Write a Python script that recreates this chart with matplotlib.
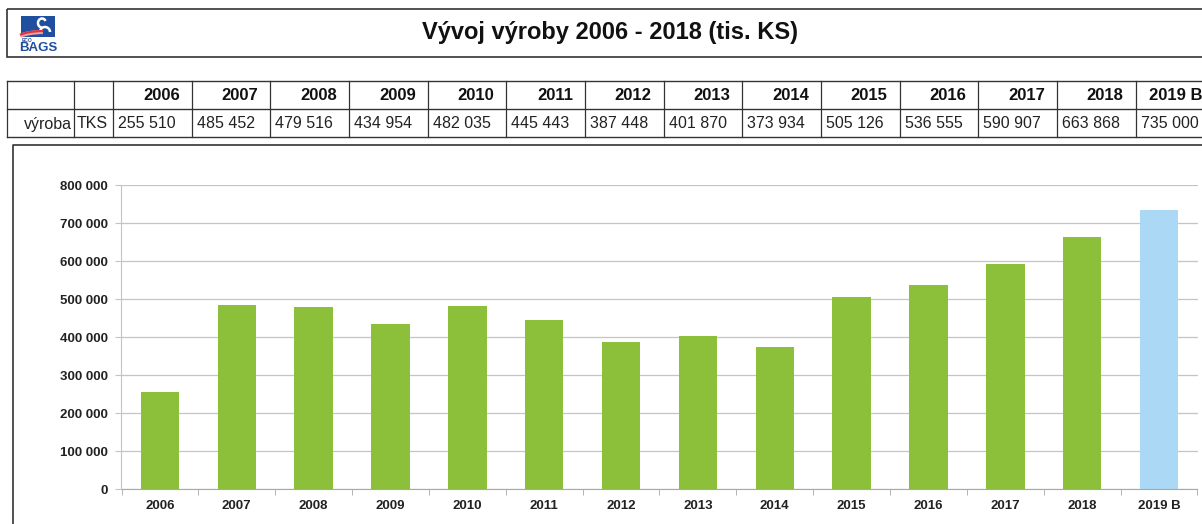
import matplotlib.pyplot as plt
from matplotlib.patches import Rectangle, Arc
from matplotlib.ticker import FuncFormatter, FixedLocator

plt.rcParams['font.family'] = ['Liberation Sans', 'DejaVu Sans']

# data
years = ['2006', '2007', '2008', '2009', '2010', '2011', '2012', '2013',
         '2014', '2015', '2016', '2017', '2018', '2019 B']
production = [255510, 485452, 479516, 434954, 482035, 445443, 387448, 401870,
              373934, 505126, 536555, 590907, 663868, 735000]
row_label = 'výroba'
unit_label = 'TKS'
title = 'Vývoj výroby 2006 - 2018 (tis. KS)'
y_ticks = [0, 100000, 200000, 300000, 400000, 500000, 600000, 700000, 800000]

green = '#8cbf3a'
blue = '#abd8f4'
bar_colors = [green] * 13 + [blue]


def space_thousands(v):
    return f'{int(v):,}'.replace(',', ' ')


W, H = 1202, 524
fig = plt.figure(figsize=(W / 100, H / 100), dpi=100)

# overlay in pixel coordinates for header box, table and frame
over = fig.add_axes([0, 0, 1, 1])
over.set_xlim(0, W)
over.set_ylim(H, 0)
over.axis('off')

line_c = '#333333'
logo_c = '#1f4f9e'

#-------------------------------
# header box with logo and title
#-------------------------------
over.add_patch(Rectangle((7, 9), 1300, 48, fill=False, edgecolor=line_c, lw=1.2))
over.add_patch(Rectangle((21, 16), 34, 21, facecolor=logo_c, edgecolor='none'))
# swan neck
over.add_patch(Arc((42, 23), 8, 9, theta1=90, theta2=330, color='white', lw=1.8))
over.add_patch(Arc((45, 32), 10, 10, theta1=200, theta2=360, color='white', lw=1.8))
# red swoosh
over.add_patch(Arc((44, 40), 56, 16, theta1=190, theta2=262, color='#f2a0a4', lw=3))
over.add_patch(Arc((44, 39), 56, 16, theta1=190, theta2=262, color='#d9363e', lw=1.6))
over.text(22, 40.5, 'ECO', fontsize=3.5, color=logo_c, fontweight='bold', va='center')
over.text(38.5, 48, 'BAGS', fontsize=9.5, color=logo_c, fontweight='bold',
          ha='center', va='center')
over.text(610, 33, title, fontsize=17, fontweight='bold', ha='center', va='center',
          color='#111111')

#-------------------------------
# table
#-------------------------------
t_top, t_mid, t_bot = 81, 109, 137
col_w = 78.67
col_x0 = 113
for y in (t_top, t_mid, t_bot):
    over.plot([7, W + 10], [y, y], color=line_c, lw=1.0)
vlines = [7, 74] + [col_x0 + k * col_w for k in range(len(years))]
for x in vlines:
    over.plot([x, x], [t_top, t_bot], color=line_c, lw=0.9)

for k, (yr, val) in enumerate(zip(years, production)):
    left = col_x0 + k * col_w
    over.text(left + col_w - 12, (t_top + t_mid) / 2 + 1, yr, fontsize=12,
              fontweight='bold', ha='right', va='center', color='#111111')
    over.text(left + 5, (t_mid + t_bot) / 2 + 1, space_thousands(val), fontsize=11.5,
              ha='left', va='center', color='#222222')
over.text(72, (t_mid + t_bot) / 2 + 1, row_label, fontsize=11.5, ha='right',
          va='center', color='#222222')
over.text(77, (t_mid + t_bot) / 2 + 1, unit_label, fontsize=11.5, ha='left',
          va='center', color='#222222')

# chart frame (left and top edges visible)
over.plot([13, 13, W + 10], [H + 10, 145, 145], color=line_c, lw=1.2)

#-------------------------------
# bar chart
#-------------------------------
ax = fig.add_axes([121.5 / W, 35 / H, (1197.5 - 121.5) / W, 304 / H])
x = range(len(years))
ax.bar(x, production, width=0.5, color=bar_colors, zorder=2)
ax.set_xlim(-0.5, len(years) - 0.5)
ax.set_ylim(0, 800000)
ax.set_yticks(y_ticks)
ax.yaxis.set_major_formatter(FuncFormatter(lambda v, p: space_thousands(v)))
ax.set_xticks(list(x))
ax.set_xticklabels(years)
ax.xaxis.set_minor_locator(FixedLocator([i - 0.5 for i in range(len(years) + 1)]))

ax.grid(which='major', axis='y', color='#c4c4c4', lw=0.9)
ax.set_axisbelow(True)
for s in ('top', 'right'):
    ax.spines[s].set_visible(False)
ax.spines['left'].set_color('#c4c4c4')
ax.spines['bottom'].set_color('#a8a8a8')

ax.tick_params(axis='y', length=4, color='#c4c4c4', pad=6, labelsize=9.5,
               labelcolor='#222222')
ax.tick_params(axis='x', which='major', length=0, pad=8, labelsize=9.5,
               labelcolor='#222222')
ax.tick_params(axis='x', which='minor', length=4, color='#a8a8a8')
for lab in ax.get_xticklabels() + ax.get_yticklabels():
    lab.set_fontweight('bold')

plt.savefig('out.png', dpi=100)
